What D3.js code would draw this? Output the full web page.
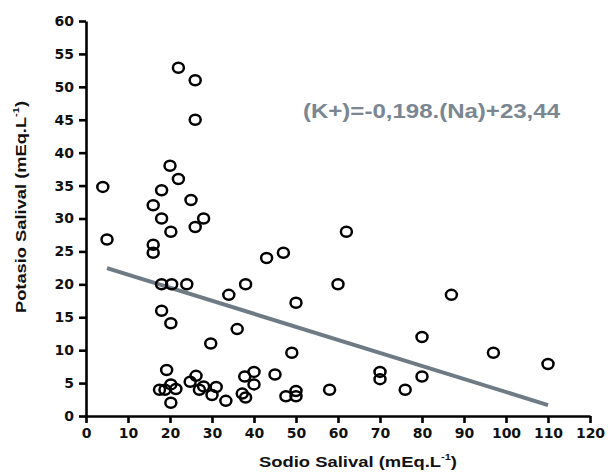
<!DOCTYPE html>
<html>
<head>
<meta charset="utf-8">
<script src="https://cdn.jsdelivr.net/npm/d3@7"></script>
<style>
  body { margin: 0; background: #fff; }
  svg text { font-family: "Liberation Sans", Arial, sans-serif; }
</style>
</head>
<body>
<div id="chart"></div>
<script>
// sodio (x) and potasio (y) values
const sodio = [4, 5, 22, 26, 26, 20, 22, 18, 16, 25, 18, 28, 20.2, 26,
    16, 16, 18, 20.4, 24, 18, 20.2, 34, 38, 36, 29.7, 43, 47, 50, 49,
    19.2, 17.5, 18.8, 20.2, 21.4, 20.2, 24.8, 26.2, 27, 28, 30, 31, 33.3,
    37.2, 38, 37.8, 40, 40, 45, 47.6, 50, 50,
    62, 60, 87, 80, 97, 110, 70, 70, 80, 76, 58];
const potasio = [34.8, 26.8, 52.9, 51, 45, 38, 36, 34.3, 32, 32.8, 30, 30, 28, 28.7,
    26, 24.8, 20, 20, 20, 16, 14.1, 18.4, 20, 13.2, 11, 24, 24.8, 17.2, 9.6,
    7, 4, 4, 4.8, 4.1, 2, 5.2, 6.1, 4, 4.5, 3.2, 4.4, 2.3,
    3.4, 2.8, 6, 6.7, 4.8, 6.3, 3, 3.8, 3,
    28, 20, 18.4, 12, 9.6, 7.9, 6.7, 5.6, 6, 4, 4];
const xTicks = [0, 10, 20, 30, 40, 50, 60, 70, 80, 90, 100, 110, 120];
const yTicks = [0, 5, 10, 15, 20, 25, 30, 35, 40, 45, 50, 55, 60];
// regression K+ = -0,198 Na + 23,44, drawn from Na = 5 to 110
const fitRange = [5, 110];
const slope = -0.198, intercept = 23.44;

const width = 608, height = 473;
const margin = {top: 21, right: 18, bottom: 57, left: 86};

const svg = d3.select("#chart").append("svg")
    .attr("width", width)
    .attr("height", height);

const x = d3.scaleLinear().domain([0, 120]).range([margin.left, width - margin.right]);
const y = d3.scaleLinear().domain([0, 60]).range([height - margin.bottom, margin.top]);

const styleAxis = g => g
    .attr("font-size", null).attr("font-family", null)
    .call(g => g.selectAll("path, line").attr("stroke", "#000").attr("stroke-width", 2.6))
    .call(g => g.selectAll("text")
        .style("font-family", "'DejaVu Sans', sans-serif")
        .style("font-size", "14px").style("font-weight", "bold").attr("fill", "#111"));

svg.append("g")
    .attr("transform", `translate(0,${y(0)})`)
    .call(d3.axisBottom(x).tickValues(xTicks).tickSize(7).tickSizeOuter(0).tickPadding(5))
    .call(styleAxis);

svg.append("g")
    .attr("transform", `translate(${x(0)},0)`)
    .call(d3.axisLeft(y).tickValues(yTicks).tickSize(7).tickSizeOuter(0).tickPadding(5))
    .call(styleAxis);

// regression line
svg.append("line")
    .attr("x1", x(fitRange[0])).attr("y1", y(slope * fitRange[0] + intercept))
    .attr("x2", x(fitRange[1])).attr("y2", y(slope * fitRange[1] + intercept))
    .attr("stroke", "#6e7b85")
    .attr("stroke-width", 4);

// points
svg.append("g")
    .selectAll("ellipse")
    .data(sodio.map((d, i) => [d, potasio[i]]))
    .join("ellipse")
    .attr("cx", d => x(d[0]))
    .attr("cy", d => y(d[1]))
    .attr("rx", 5.5)
    .attr("ry", 5)
    .attr("fill", "none")
    .attr("stroke", "#000")
    .attr("stroke-width", 2.5);

// equation
svg.append("text")
    .attr("x", 303)
    .attr("y", 118)
    .style("font-size", "20px")
    .style("font-weight", "bold")
    .attr("fill", "#7a8691")
    .attr("textLength", 257)
    .attr("lengthAdjust", "spacingAndGlyphs")
    .text("(K+)=-0,198.(Na)+23,44");

// axis titles
const xt = svg.append("text")
    .attr("x", 358)
    .attr("y", 467)
    .attr("text-anchor", "middle")
    .style("font-size", "15px")
    .style("font-weight", "bold")
    .attr("fill", "#111")
    .attr("textLength", 198)
    .attr("lengthAdjust", "spacingAndGlyphs")
    .text("Sodio Salival (mEq.L");
xt.append("tspan").attr("dy", -7).style("font-size", "9px").text("-1");
xt.append("tspan").attr("dy", 7).text(")");

const yt = svg.append("text")
    .attr("transform", `translate(26,207) rotate(-90)`)
    .attr("text-anchor", "middle")
    .style("font-size", "15px")
    .style("font-weight", "bold")
    .attr("fill", "#111")
    .attr("textLength", 212)
    .attr("lengthAdjust", "spacingAndGlyphs")
    .text("Potasio Salival (mEq.L");
yt.append("tspan").attr("dy", -7).style("font-size", "9px").text("-1");
yt.append("tspan").attr("dy", 7).text(")");
</script>
</body>
</html>
